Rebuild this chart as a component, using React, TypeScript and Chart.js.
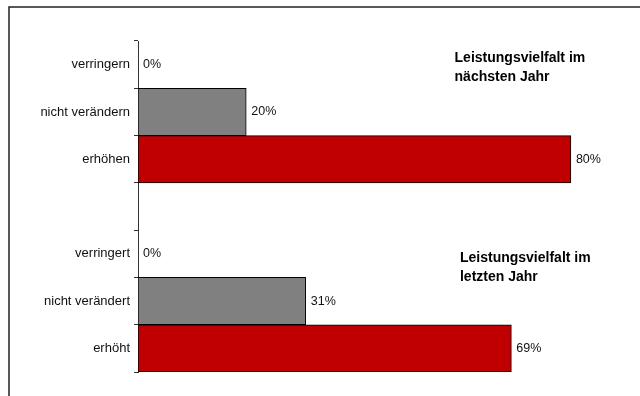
import React, { useEffect, useRef } from "react";
import { Chart, registerables } from "chart.js";

Chart.register(...registerables);

const categories = ["verringern", "nicht verändern", "erhöhen", "", "verringert", "nicht verändert", "erhöht"];
const values: (number | null)[] = [0, 20, 80, null, 0, 31, 69];
const barColors = ["#808080", "#808080", "#C00000", "#808080", "#808080", "#808080", "#C00000"];
const valueLabels = ["0%", "20%", "80%", "", "0%", "31%", "69%"];
const groupTitles = [
  ["Leistungsvielfalt im", "nächsten Jahr"],
  ["Leistungsvielfalt im", "letzten Jahr"],
];

const FONT = "'Liberation Sans', Arial, sans-serif";

const framePlugin = {
  id: "frame",
  beforeDraw(chart: any) {
    const ctx = chart.ctx;
    ctx.save();
    ctx.strokeStyle = "#222";
    ctx.lineWidth = 1.5;
    ctx.beginPath();
    ctx.moveTo(9, 396);
    ctx.lineTo(9, 7);
    ctx.lineTo(640, 7);
    ctx.stroke();
    ctx.restore();
  },
};

const labelsPlugin = {
  id: "valueLabels",
  afterDatasetsDraw(chart: any) {
    const ctx = chart.ctx;
    const meta = chart.getDatasetMeta(0);
    ctx.save();
    ctx.font = `12.5px ${FONT}`;
    ctx.fillStyle = "#111";
    ctx.textBaseline = "middle";
    ctx.textAlign = "left";
    meta.data.forEach((el: any, i: number) => {
      if (values[i] === null) return;
      ctx.fillText(valueLabels[i], el.x + 5, el.y);
    });
    const y = chart.scales.y;
    const x = chart.scales.x;
    ctx.font = `bold 14px ${FONT}`;
    ctx.fillStyle = "#000";
    const anchors = [
      { tx: x.getPixelForValue(58.5), ty: y.getPixelForValue(0) - 6.5 },
      { tx: x.getPixelForValue(59.5), ty: y.getPixelForValue(4) + 4.5 },
    ];
    anchors.forEach((a, g) => {
      ctx.fillText(groupTitles[g][0], a.tx, a.ty);
      ctx.fillText(groupTitles[g][1], a.tx, a.ty + 18.5);
    });
    ctx.restore();
  },
};

export default function App() {
  const ref = useRef<HTMLCanvasElement>(null);
  useEffect(() => {
    document.body.style.margin = "0";
    const chart = new Chart(ref.current!, {
      type: "bar",
      data: {
        labels: categories,
        datasets: [
          {
            data: values,
            backgroundColor: barColors,
            borderColor: "#000",
            borderWidth: 1,
            borderSkipped: false,
            barPercentage: 1,
            categoryPercentage: 1,
          },
        ],
      },
      options: {
        indexAxis: "y",
        animation: false,
        responsive: false,
        events: [],
        layout: { padding: { left: 8, top: 41, bottom: 24, right: 15 } },
        plugins: { legend: { display: false }, tooltip: { enabled: false } },
        scales: {
          x: { display: false, min: 0, max: 90 },
          y: {
            afterFit(scale: any) {
              scale.width = 130;
            },
            offset: true,
            grid: {
              offset: true,
              drawOnChartArea: false,
              drawTicks: true,
              tickLength: 4,
              color: "#333",
            },
            border: { display: true, color: "#333", width: 1 },
            ticks: {
              padding: 4,
              color: "#111",
              font: { family: FONT, size: 13 },
            },
          },
        },
      },
      plugins: [framePlugin, labelsPlugin],
    });
    return () => chart.destroy();
  }, []);
  return <canvas ref={ref} width={640} height={396} style={{ display: "block" }} />;
}
